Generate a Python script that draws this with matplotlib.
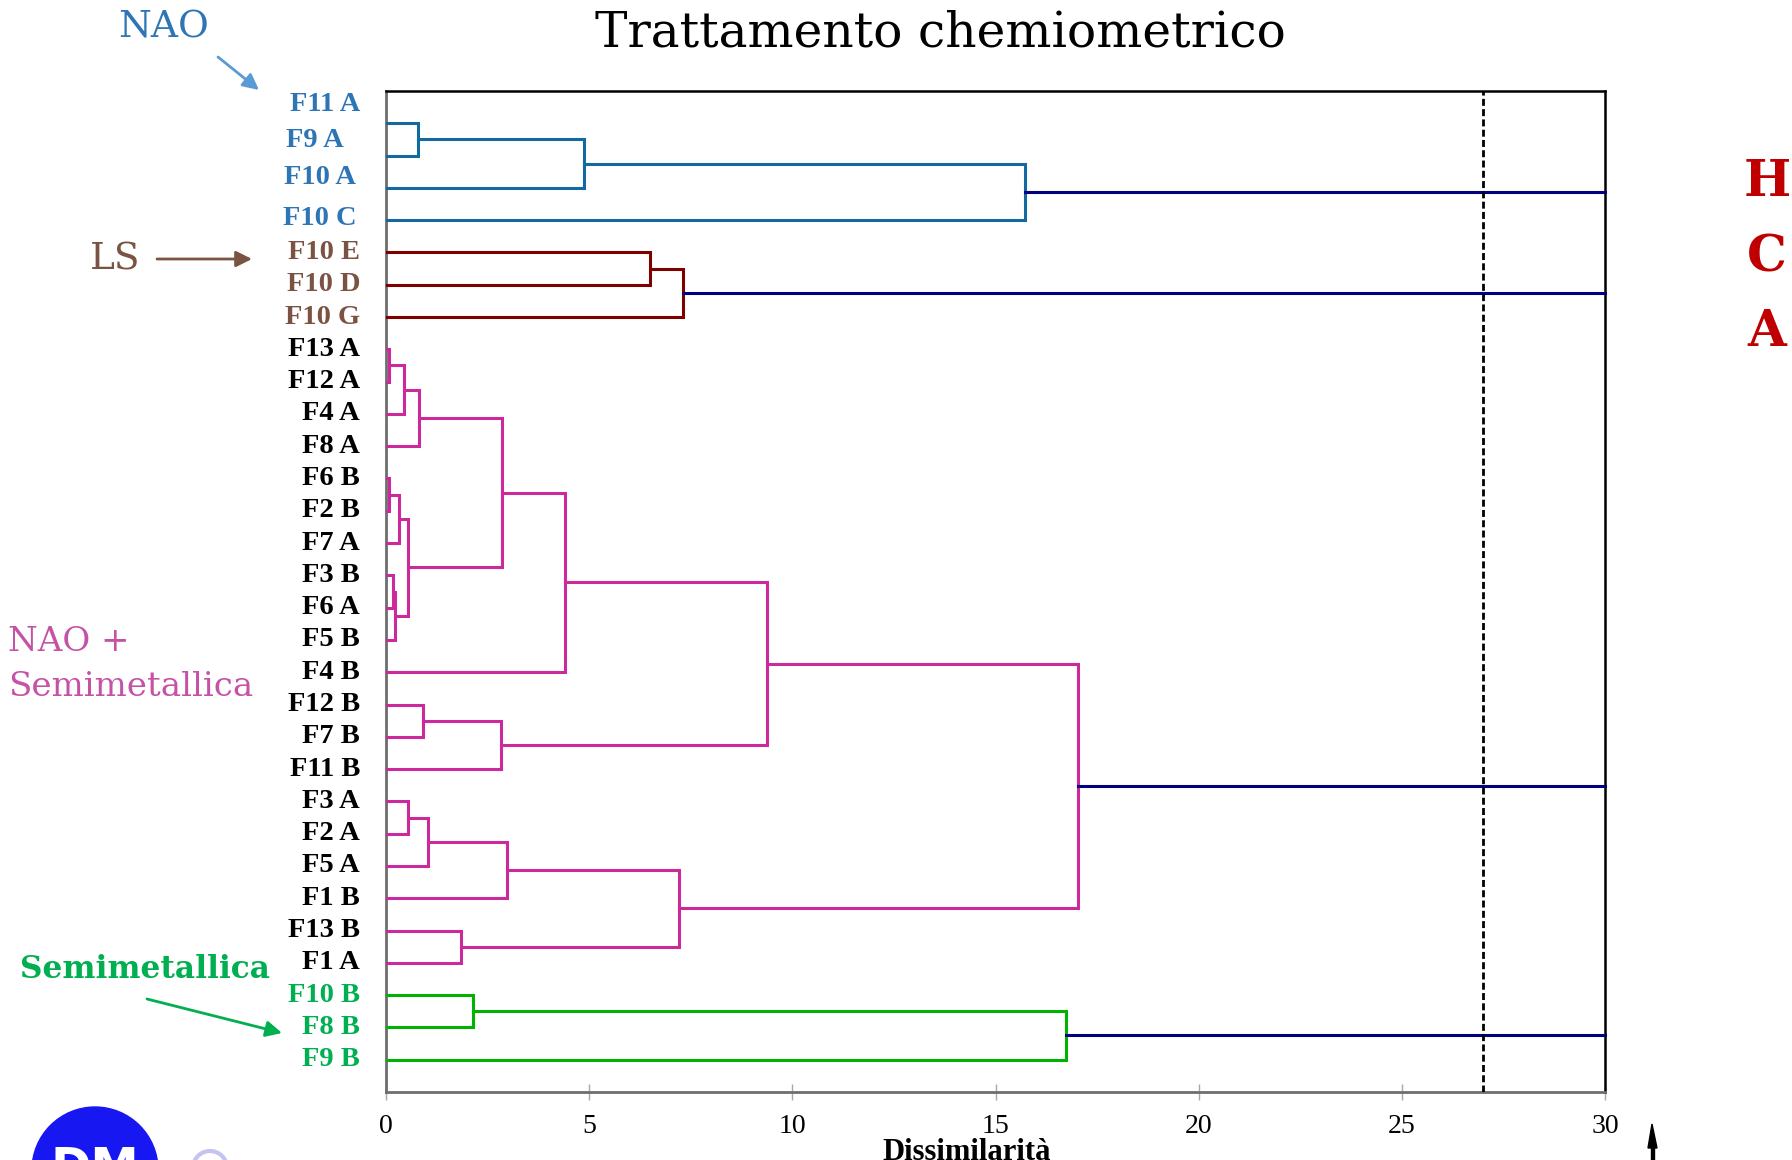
"""Cluster analysis dendrogram (HCA) of the sample set."""
import matplotlib
matplotlib.use("Agg")
import matplotlib.pyplot as plt
import matplotlib.transforms as mtransforms
from matplotlib.patches import Circle, Polygon, FancyArrowPatch

plt.rcParams["font.family"] = ["Liberation Serif", "DejaVu Serif"]

# ── Data ──────────────────────────────────────────────────────────────────────
LEAVES = [
    "F11 A", "F9 A", "F10 A", "F10 C",
    "F10 E", "F10 D", "F10 G",
    "F13 A", "F12 A", "F4 A", "F8 A", "F6 B", "F2 B", "F7 A", "F3 B", "F6 A",
    "F5 B", "F4 B", "F12 B", "F7 B", "F11 B", "F3 A", "F2 A", "F5 A", "F1 B",
    "F13 B", "F1 A",
    "F10 B", "F8 B", "F9 B",
]
LEAF_GROUP = ["nao"] * 4 + ["ls"] * 3 + ["mix"] * 20 + ["semi"] * 3

# linkage: (node a, node b, dissimilarity); ids >= len(LEAVES) are earlier merges
MERGES = [
    (0, 1, 0.79), (30, 2, 4.87), (31, 3, 15.72),
    (4, 5, 6.49), (33, 6, 7.31),
    (7, 8, 0.08), (35, 9, 0.45), (36, 10, 0.80),
    (11, 12, 0.07), (38, 13, 0.32),
    (14, 15, 0.16), (40, 16, 0.21), (39, 41, 0.55),
    (37, 42, 2.85), (43, 17, 4.41),
    (18, 19, 0.90), (45, 20, 2.82), (44, 46, 9.38),
    (21, 22, 0.54), (48, 23, 1.03), (49, 24, 2.99),
    (25, 26, 1.84), (50, 51, 7.22), (47, 52, 17.04),
    (27, 28, 2.13), (54, 29, 16.73),
]
CLUSTER_ROOTS = {32: "nao", 34: "ls", 53: "mix", 55: "semi"}
CUT_LEVEL = 27
X_TICKS = [0, 5, 10, 15, 20, 25, 30]

# ── Style ─────────────────────────────────────────────────────────────────────
W, H = 1792, 1160
LINE_CLR = {"nao": "#136aa0", "ls": "#800000", "mix": "#cc2a9c", "semi": "#00b300"}
LABEL_CLR = {"nao": "#2e75b6", "ls": "#7b5343", "mix": "#000000", "semi": "#00b050"}
NAVY = "#000080"
PINK = "#c652a6"
HCA_RED = "#c00000"
# hand-placed label offsets (pixels, leaf units)
LABEL_NUDGE = {0: (0, -0.59), 1: (-16, -0.46), 2: (-4, -0.31), 3: (-3, -0.06)}


def fx(x):
    return x / W


def fy(y):
    return 1 - y / H


fig = plt.figure(figsize=(W / 100, H / 100), dpi=100)
fig.patch.set_facecolor("white")
ax = fig.add_axes([fx(386), fy(1092), fx(1605) - fx(386), fy(91) - fy(1092)])

n = len(LEAVES)
pos = {i: (0.0, i + 1.0) for i in range(n)}
children = {}
for k, (a, b, h) in enumerate(MERGES):
    children[n + k] = (a, b)

# colour of every merge node = colour of its top-level cluster
node_group = {}
for root, grp in CLUSTER_ROOTS.items():
    stack = [root]
    while stack:
        node = stack.pop()
        node_group[node] = grp
        stack.extend(children.get(node, ()))

for k, (a, b, h) in enumerate(MERGES):
    xa, ya = pos[a]
    xb, yb = pos[b]
    ax.plot([xa, h, h, xb], [ya, ya, yb, yb],
            color=LINE_CLR[node_group[n + k]], lw=2.2, solid_joinstyle="miter", zorder=3)
    pos[n + k] = (h, (ya + yb) / 2)

for root in CLUSTER_ROOTS:
    x0, y0 = pos[root]
    ax.plot([x0, X_TICKS[-1]], [y0, y0], color=NAVY, lw=2.2, zorder=3, clip_on=False)

ax.axvline(CUT_LEVEL, color="black", lw=2, linestyle=(0, (2.5, 1.2)), zorder=4)

ax.set_xlim(X_TICKS[0], X_TICKS[-1])
ax.set_ylim(n + 1, 0)
ax.set_xticks(X_TICKS)
ax.set_yticks([])
ax.tick_params(axis="x", direction="inout", length=11, width=1, color="#a8a8a8",
               pad=10, labelsize=20, labelcolor="black")
for side in ("top", "right"):
    ax.spines[side].set_color("black")
    ax.spines[side].set_linewidth(1.8)
for side in ("left", "bottom"):
    ax.spines[side].set_color("#6e6e6e")
    ax.spines[side].set_linewidth(2)

# leaf labels
lbl_tr = mtransforms.blended_transform_factory(fig.transFigure, ax.transData)
for i, (name, grp) in enumerate(zip(LEAVES, LEAF_GROUP)):
    dx, dy = LABEL_NUDGE.get(i, (0, 0))
    ax.text(fx(360 + dx), i + 1 + dy, name, transform=lbl_tr, ha="right", va="center",
            fontsize=20.5, fontweight="bold", color=LABEL_CLR[grp], clip_on=False)

fig.text(fx(967), fy(1138), "Dissimilarità", ha="center", va="top",
         fontsize=22, fontweight="bold", color="black")

# title and group annotations
serif = ["DejaVu Serif"]
fig.text(fx(940), fy(33), "Trattamento chemiometrico", ha="center", va="center",
         fontsize=35, family=serif, color="black")
fig.text(fx(164), fy(28), "NAO", ha="center", va="center", fontsize=27,
         family=serif, color=LABEL_CLR["nao"])
fig.text(fx(115), fy(259), "LS", ha="center", va="center", fontsize=27,
         family=serif, color=LABEL_CLR["ls"])
fig.text(fx(8), fy(642), "NAO +", ha="left", va="center", fontsize=24.5,
         family=serif, color=PINK)
fig.text(fx(8), fy(687), "Semimetallica", ha="left", va="center", fontsize=24.5,
         family=serif, color=PINK)
fig.text(fx(145), fy(969), "Semimetallica", ha="center", va="center", fontsize=22.5,
         fontweight="bold", family=serif, color=LABEL_CLR["semi"])


def arrow(tail, tip, color):
    fig.add_artist(FancyArrowPatch(
        (fx(tail[0]), fy(tail[1])), (fx(tip[0]), fy(tip[1])),
        transform=fig.transFigure, arrowstyle="-|>", mutation_scale=24,
        color=color, lw=2, shrinkA=0, shrinkB=0))


arrow((218, 57), (259, 90), "#5b9bd5")
arrow((157, 259), (252, 259), LABEL_CLR["ls"])
arrow((147, 999), (282, 1033), LABEL_CLR["semi"])

for y, letter in zip((183, 258, 333), "HCA"):
    fig.text(fx(1767), fy(y), letter, ha="center", va="center", fontsize=36,
             fontweight="bold", family=serif, color=HCA_RED)

# logo in the bottom-left corner (sizes in inches at 100 dpi)
inch = fig.dpi_scale_trans
fig.add_artist(Circle((0.95, (H - 1170) / 100), 0.63, transform=inch,
                      color="#1717f2", zorder=5))
fig.text(fx(95), fy(1145), "DM", ha="center", va="top", fontsize=35,
         fontweight="bold", family=["DejaVu Sans"], color="white", zorder=6)
fig.add_artist(Circle((2.10, (H - 1168) / 100), 0.17, transform=inch,
                      fill=False, ec="#c4c4f2", lw=3, zorder=5))

# pen cursor mark, bottom right
fig.add_artist(Polygon([(fx(1648), fy(1148)), (fx(1657), fy(1148)), (fx(1652), fy(1124))],
                       closed=True, transform=fig.transFigure, color="black"))
fig.add_artist(Polygon([(fx(1651), fy(1148)), (fx(1654), fy(1148)), (fx(1654), fy(1160)),
                        (fx(1651), fy(1160))], closed=True, transform=fig.transFigure,
                       color="black"))

fig.savefig("out.png", dpi=100, facecolor="white")
